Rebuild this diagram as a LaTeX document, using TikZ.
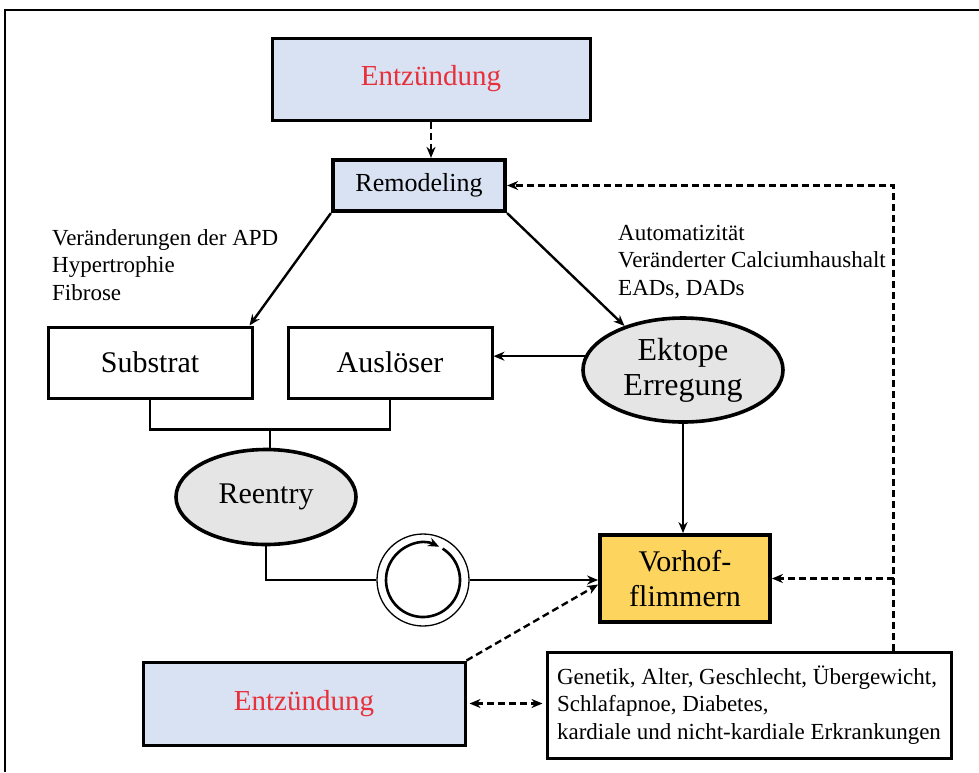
\documentclass[tikz,border=0pt]{standalone}
\usepackage{fontspec}
\setmainfont{Liberation Serif}
\usepackage{xcolor}
\definecolor{paleblue}{HTML}{D9E2F3}
\definecolor{afyellow}{HTML}{FCD45E}
\definecolor{ovalgray}{HTML}{E5E5E5}
\definecolor{inflred}{HTML}{E8303A}
\usepackage{tikz}
\usetikzlibrary{shapes.geometric,arrows.meta,positioning,calc}

\begin{document}
\begin{tikzpicture}[
  x=1pt,y=-1pt,
  box/.style={draw,rectangle,line width=3pt,align=center,inner sep=0pt,font=\fontsize{30}{35}\selectfont},
  bluebox/.style={box,fill=paleblue,text=inflred,font=\fontsize{29}{34}\selectfont},
  causebox/.style={box,fill=white,minimum width=204pt,minimum height=71pt},
  oval/.style={draw,ellipse,line width=3.6pt,fill=ovalgray,align=center,inner sep=0pt,font=\fontsize{30}{35}\selectfont},
  note/.style={align=left,anchor=north west,inner sep=0pt,font=\fontsize{23}{27.5}\selectfont},
  arrow/.style={-{Stealth[length=11pt,width=9pt]},line width=2.4pt},
  dasharrow/.style={arrow,dash pattern=on 7pt off 4pt},
  plain/.style={line width=2.4pt}
]
  \useasboundingbox (0,0) rectangle (979,772);
  \draw[line width=1.6pt] (5,772) -- (5,10) -- (979,10);

  \node[bluebox,minimum width=318pt,minimum height=82pt] (entzTop) at (431,79) {Entzündung};
  \node[box,fill=paleblue,line width=4.2pt,minimum width=172pt,minimum height=51pt,font=\fontsize{26}{30}\selectfont] (remod) at (419,185.5) {Remodeling};
  \node[note] (apdText) at (52,229) {Veränderungen der APD\\Hypertrophie\\Fibrose};
  \node[note] (autoText) at (618,225) {Automatizität\\Veränderter Calciumhaushalt\\EADs,\ DADs};
  \node[causebox] (substrat) at (150,362.5) {Substrat};
  \node[causebox] (ausloeser) at (390,362.5) {Auslöser};
  \node[oval,minimum width=200pt,minimum height=104pt,font=\fontsize{32}{35}\selectfont] (ektop) at (683,370) {Ektope\\Erregung};
  \node[oval,minimum width=180pt,minimum height=95pt] (reentry) at (266,497) {Reentry};
  \node[box,fill=afyellow,line width=3.8pt,minimum width=170pt,minimum height=87pt] (vhf) at (685,578.5) {Vorhof-\\flimmern};
  \node[bluebox,minimum width=322pt,minimum height=83pt] (entzBottom) at (304,703.5) {Entzündung};
  \node[box,fill=white,minimum width=404pt,minimum height=106pt,align=left,inner xsep=8pt,
        font=\fontsize{23}{27.5}\selectfont] (risk) at (749,705)
        {Genetik, Alter, Geschlecht, Übergewicht,\\Schlafapnoe, Diabetes,\\kardiale und nicht-kardiale Erkrankungen};
  \node[draw,circle,line width=1.3pt,minimum size=92pt,inner sep=0pt] (loop) at (423,580) {};

  % Kreisender Pfeil im Reentry-Symbol (y zeigt nach unten)
  \draw[arrow,line width=2.6pt] ($(loop.center)+(-418:37)$) arc[start angle=-418,end angle=-64,radius=37];

  \draw[dasharrow] (entzTop.south) -- (entzTop.south |- remod.north);
  \draw[arrow] (remod.south west) -- ([xshift=-4pt]substrat.north east);
  \draw[arrow] (remod.south east) -- (ektop.143);
  \draw[arrow] (ektop.172) -- (ektop.172 -| ausloeser.east);
  \draw[arrow] (ektop.south) -- (ektop.south |- vhf.north);

  \coordinate (join) at ($(substrat.south)!0.5!(ausloeser.south)+(0,30)$);
  \draw[plain] (substrat.south) |- (join) -| (ausloeser.south);
  \draw[plain] (join) -- (join |- reentry.north);
  \draw[plain] (reentry.south) |- (loop.west);
  \draw[arrow] (loop.east) -- (loop.east -| vhf.west);

  \coordinate (fork) at ([xshift=-59pt]risk.north east |- vhf.east);
  \draw[dasharrow] ([xshift=-59pt]risk.north east) |- (remod.east);
  \draw[dasharrow] (fork) -- (vhf.east);
  \draw[dasharrow] (entzBottom.north east) -- ([yshift=-6pt]vhf.west);
  \draw[dasharrow,{Stealth[length=11pt,width=9pt]}-{Stealth[length=11pt,width=9pt]}]
    ([xshift=3pt]entzBottom.east) -- ([xshift=-3pt]entzBottom.east -| risk.west);
\end{tikzpicture}
\end{document}
